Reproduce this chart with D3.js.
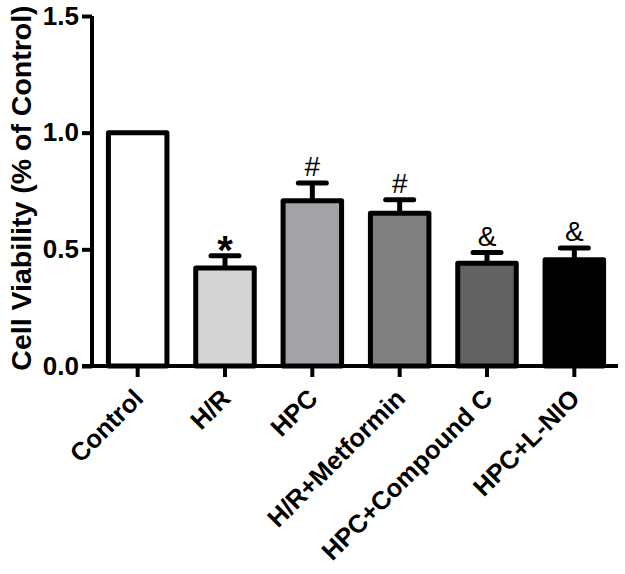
<!DOCTYPE html>
<html><head><meta charset="utf-8">
<script src="https://cdn.jsdelivr.net/npm/d3@7/dist/d3.min.js"></script>
<style>body{margin:0;background:#fff}svg{display:block}</style>
</head><body><svg id="c" width="625" height="574"></svg>
<script>
const categories = ["Control","H/R","HPC","H/R+Metformin","HPC+Compound C","HPC+L-NIO"];
const means = [1.0, 0.42, 0.708, 0.655, 0.44, 0.455];
const errors = [0, 0.052, 0.076, 0.057, 0.046, 0.051];
const markers = ["", "*", "#", "#", "&", "&"];
const fills = ["#ffffff","#d4d4d4","#a3a3a7","#808080","#626262","#000000"];
const yTicks = [0.0, 0.5, 1.0, 1.5];

const svg = d3.select("#c");
const font = "Liberation Sans, Arial, Helvetica, sans-serif";
const y = d3.scaleLinear().domain([0,1.5]).range([366,16]);
const x = d3.scaleBand().domain(categories).range([94,618]).paddingInner(0.33).paddingOuter(0.165);

// bars
svg.selectAll("rect.bar").data(categories).join("rect")
  .attr("x", d=>x(d)).attr("width", x.bandwidth())
  .attr("y", (d,i)=>y(means[i])).attr("height", (d,i)=>y(0)-y(means[i]))
  .attr("fill", (d,i)=>fills[i]).attr("stroke","#000").attr("stroke-width",5)
  .attr("stroke-linejoin","round");

// error bars
categories.forEach((d,i)=>{
  if(!errors[i]) return;
  const cx = x(d)+x.bandwidth()/2;
  const top = y(means[i]+errors[i]);
  svg.append("line").attr("x1",cx).attr("x2",cx).attr("y1",y(means[i])).attr("y2",top)
    .attr("stroke","#000").attr("stroke-width",5);
  svg.append("line").attr("x1",cx-14).attr("x2",cx+14).attr("y1",top).attr("y2",top)
    .attr("stroke","#000").attr("stroke-width",5).attr("stroke-linecap","round");
  const m = markers[i];
  const t = svg.append("text").attr("x",cx).attr("text-anchor","middle")
    .attr("font-family",font).attr("fill","#000").text(m);
  if(m==="*") t.attr("y", top+8).attr("font-size",40).attr("font-weight","bold");
  else t.attr("y", top-7).attr("font-size",28).attr("font-weight","normal");
});

// y axis
const yAxis = svg.append("g").attr("transform","translate(92,0)")
  .call(d3.axisLeft(y).tickValues(yTicks).tickFormat(d3.format(".1f")).tickSize(10).tickPadding(3));
yAxis.select(".domain").attr("stroke-width",4).attr("d","M0,16V366");
yAxis.selectAll(".tick line").attr("stroke-width",4);
yAxis.selectAll("text").attr("font-family",font).attr("font-size",26).attr("font-weight","bold").attr("fill","#000");

// x axis
const xAxis = svg.append("g").attr("transform","translate(0,366)")
  .call(d3.axisBottom(x).tickSize(11).tickFormat(""));
xAxis.select(".domain").attr("stroke-width",4).attr("d","M82,0H618");
xAxis.selectAll(".tick line").attr("stroke-width",4);

svg.selectAll("text.xl").data(categories).join("text").attr("class","xl")
  .attr("transform", d=>`translate(${x(d)+x.bandwidth()/2+7},400) rotate(-45)`)
  .attr("text-anchor","end").attr("font-family",font).attr("font-size",25.5).attr("font-weight","bold")
  .text(d=>d);

// y title
svg.append("text").attr("transform","translate(31,188) rotate(-90)")
  .attr("text-anchor","middle").attr("font-family",font).attr("font-size",28.5).attr("font-weight","bold")
  .text("Cell Viability (% of Control)");
</script></body></html>
